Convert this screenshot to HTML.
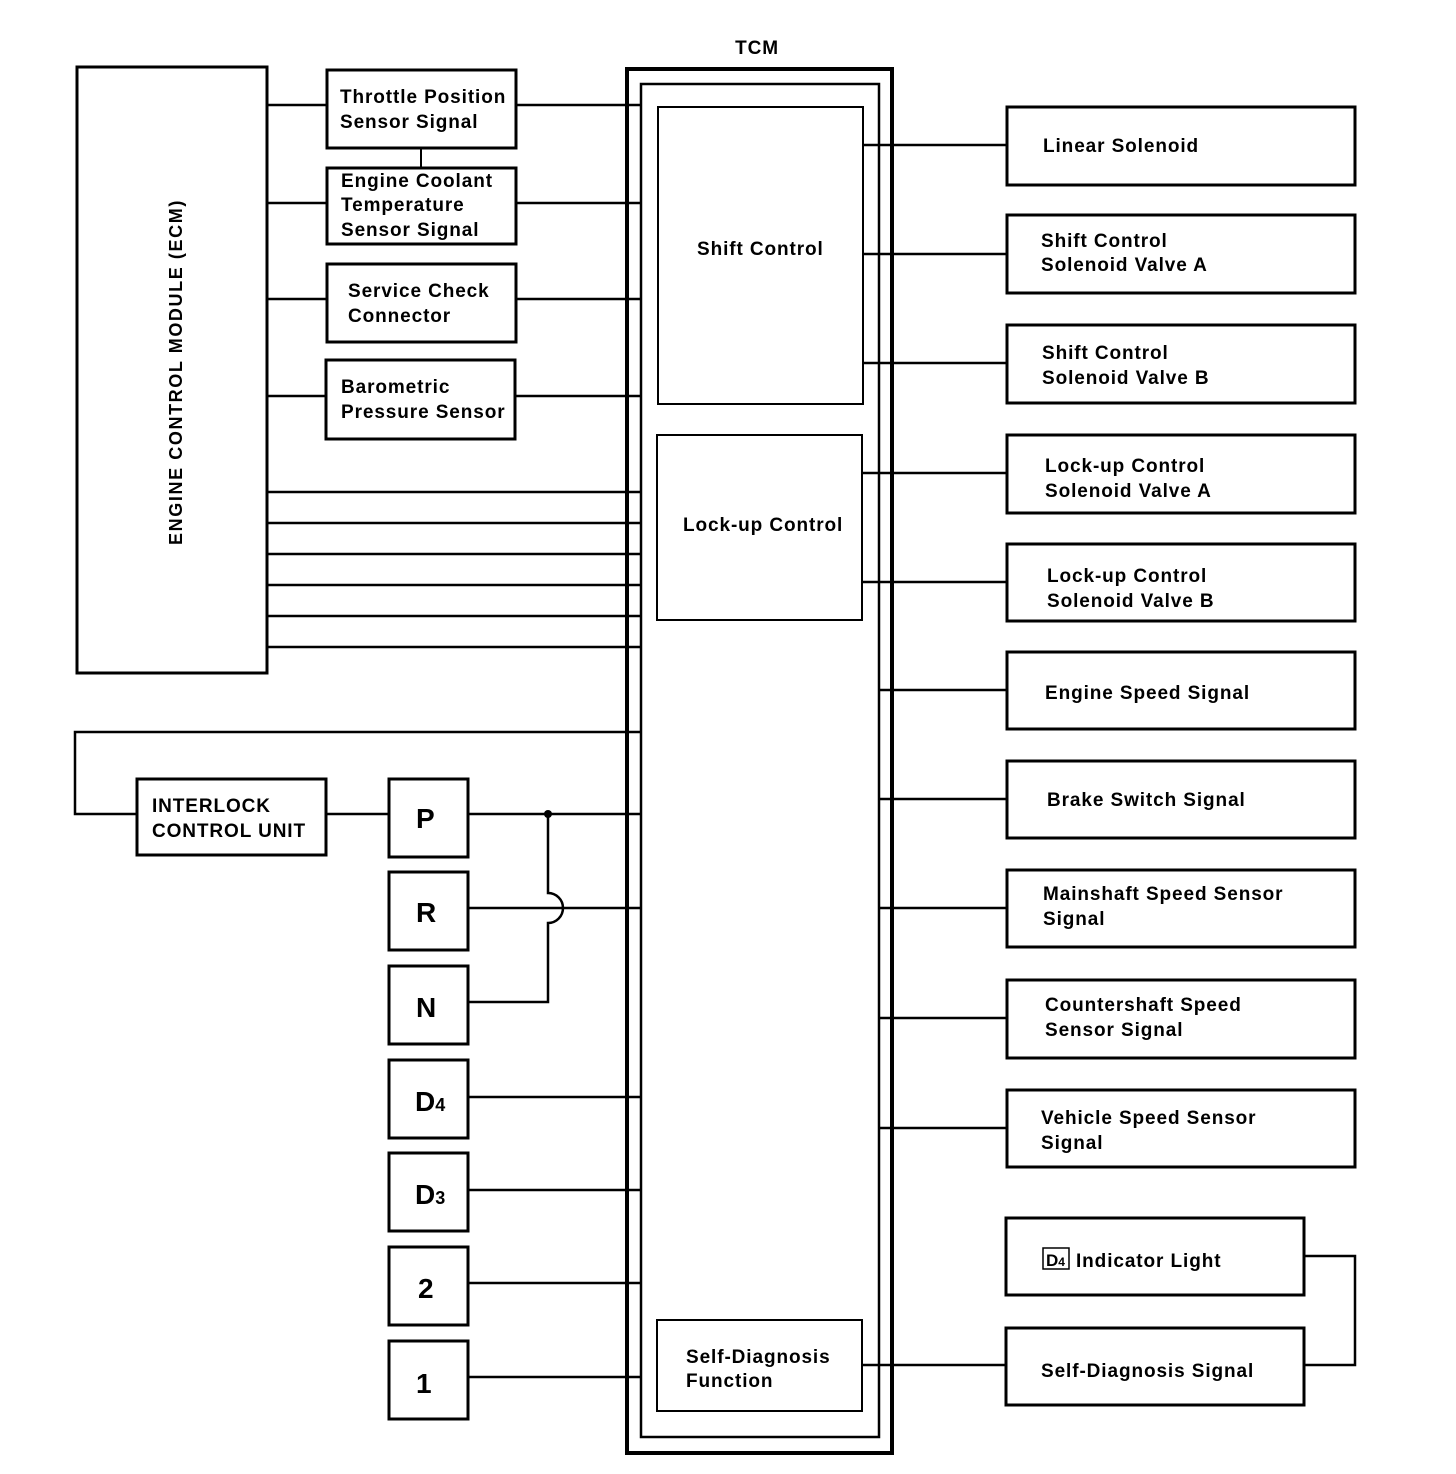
<!DOCTYPE html>
<html><head><style>body{margin:0;background:#fff}svg{display:block}</style></head><body>
<svg width="1456" height="1474" viewBox="0 0 1456 1474" xmlns="http://www.w3.org/2000/svg" font-family="Liberation Sans, sans-serif" font-weight="bold" font-size="19" letter-spacing="0.9">
<g fill="none" stroke="#000" stroke-width="3">
<rect x="627" y="69" width="265" height="1384" stroke-width="4"/>
<rect x="641" y="84" width="238" height="1353" stroke-width="2.5"/>
<rect x="658" y="107" width="205" height="297" stroke-width="2"/>
<rect x="657" y="435" width="205" height="185" stroke-width="2"/>
<rect x="657" y="1320" width="205" height="91" stroke-width="2"/>
<rect x="77" y="67" width="190" height="606"/>
<rect x="327" y="70" width="189" height="78"/>
<rect x="327" y="168" width="189" height="76"/>
<rect x="327" y="264" width="189" height="78"/>
<rect x="326" y="360" width="189" height="79"/>
<line x1="421" y1="148" x2="421" y2="168" stroke-width="2"/>
<g stroke-width="2.5">
<line x1="267" y1="105" x2="327" y2="105"/><line x1="516" y1="105" x2="641" y2="105"/>
<line x1="267" y1="203" x2="327" y2="203"/><line x1="516" y1="203" x2="641" y2="203"/>
<line x1="267" y1="299" x2="327" y2="299"/><line x1="516" y1="299" x2="641" y2="299"/>
<line x1="267" y1="396" x2="326" y2="396"/><line x1="515" y1="396" x2="641" y2="396"/>
<line x1="267" y1="492" x2="641" y2="492"/>
<line x1="267" y1="523" x2="641" y2="523"/>
<line x1="267" y1="554" x2="641" y2="554"/>
<line x1="267" y1="585" x2="641" y2="585"/>
<line x1="267" y1="616" x2="641" y2="616"/>
<line x1="267" y1="647" x2="641" y2="647"/>
<polyline points="641,732 75,732 75,814 137,814"/>
<line x1="326" y1="814" x2="389" y2="814"/>
<line x1="468" y1="814" x2="641" y2="814"/>
<line x1="468" y1="908" x2="641" y2="908"/>
<path d="M548,814 V893 A15,15 0 0 1 548,923 V1002 H468"/>
<line x1="468" y1="1097" x2="641" y2="1097"/>
<line x1="468" y1="1190" x2="641" y2="1190"/>
<line x1="468" y1="1283" x2="641" y2="1283"/>
<line x1="468" y1="1377" x2="641" y2="1377"/>
</g>
<rect x="137" y="779" width="189" height="76"/>
<rect x="389" y="779" width="79" height="78"/>
<rect x="389" y="872" width="79" height="78"/>
<rect x="389" y="966" width="79" height="78"/>
<rect x="389" y="1060" width="79" height="78"/>
<rect x="389" y="1153" width="79" height="78"/>
<rect x="389" y="1247" width="79" height="78"/>
<rect x="389" y="1341" width="79" height="78"/>
<rect x="1007" y="107" width="348" height="78"/>
<rect x="1007" y="215" width="348" height="78"/>
<rect x="1007" y="325" width="348" height="78"/>
<rect x="1007" y="435" width="348" height="78"/>
<rect x="1007" y="544" width="348" height="77"/>
<rect x="1007" y="652" width="348" height="77"/>
<rect x="1007" y="761" width="348" height="77"/>
<rect x="1007" y="870" width="348" height="77"/>
<rect x="1007" y="980" width="348" height="78"/>
<rect x="1007" y="1090" width="348" height="77"/>
<rect x="1006" y="1218" width="298" height="77"/>
<rect x="1006" y="1328" width="298" height="77"/>
<g stroke-width="2.5">
<line x1="863" y1="145" x2="1007" y2="145"/>
<line x1="863" y1="254" x2="1007" y2="254"/>
<line x1="863" y1="363" x2="1007" y2="363"/>
<line x1="862" y1="473" x2="1007" y2="473"/>
<line x1="862" y1="582" x2="1007" y2="582"/>
<line x1="879" y1="690" x2="1007" y2="690"/>
<line x1="879" y1="799" x2="1007" y2="799"/>
<line x1="879" y1="908" x2="1007" y2="908"/>
<line x1="879" y1="1018" x2="1007" y2="1018"/>
<line x1="879" y1="1128" x2="1007" y2="1128"/>
<line x1="862" y1="1365" x2="1006" y2="1365"/>
<polyline points="1304,1256 1355,1256 1355,1365 1304,1365"/>
</g>
</g>
<circle cx="548" cy="814" r="4"/>
<text x="757" y="54" text-anchor="middle">TCM</text>
<text transform="translate(182,372) rotate(-90)" text-anchor="middle" font-size="18" letter-spacing="1.6">ENGINE CONTROL MODULE (ECM)</text>
<text x="340" y="103">Throttle Position</text><text x="340" y="128">Sensor Signal</text>
<text x="341" y="187">Engine Coolant</text><text x="341" y="211">Temperature</text><text x="341" y="236">Sensor Signal</text>
<text x="348" y="297">Service Check</text><text x="348" y="322">Connector</text>
<text x="341" y="393">Barometric</text><text x="341" y="418">Pressure Sensor</text>
<text x="697" y="255">Shift Control</text>
<text x="683" y="531">Lock-up Control</text>
<text x="686" y="1363">Self-Diagnosis</text><text x="686" y="1387">Function</text>
<text x="152" y="812">INTERLOCK</text><text x="152" y="837">CONTROL UNIT</text>
<g font-size="28" letter-spacing="0"><text x="416" y="828">P</text><text x="416" y="922">R</text><text x="416" y="1017">N</text>
<text x="415" y="1111">D<tspan font-size="18">4</tspan></text><text x="415" y="1204">D<tspan font-size="18">3</tspan></text>
<text x="418" y="1298">2</text><text x="416" y="1393">1</text></g>
<text x="1043" y="152">Linear Solenoid</text>
<text x="1041" y="247">Shift Control</text><text x="1041" y="271">Solenoid Valve A</text>
<text x="1042" y="359">Shift Control</text><text x="1042" y="384">Solenoid Valve B</text>
<text x="1045" y="472">Lock-up Control</text><text x="1045" y="497">Solenoid Valve A</text>
<text x="1047" y="582">Lock-up Control</text><text x="1047" y="607">Solenoid Valve B</text>
<text x="1045" y="699">Engine Speed Signal</text>
<text x="1047" y="806">Brake Switch Signal</text>
<text x="1043" y="900">Mainshaft Speed Sensor</text><text x="1043" y="925">Signal</text>
<text x="1045" y="1011">Countershaft Speed</text><text x="1045" y="1036">Sensor Signal</text>
<text x="1041" y="1124">Vehicle Speed Sensor</text><text x="1041" y="1149">Signal</text>
<rect x="1043" y="1248" width="26" height="21" fill="none" stroke="#000" stroke-width="1.5"/>
<text x="1046" y="1266" font-size="17" letter-spacing="0">D<tspan font-size="12">4</tspan></text>
<text x="1076" y="1267">Indicator Light</text>
<text x="1041" y="1377">Self-Diagnosis Signal</text>
</svg>
</body></html>
